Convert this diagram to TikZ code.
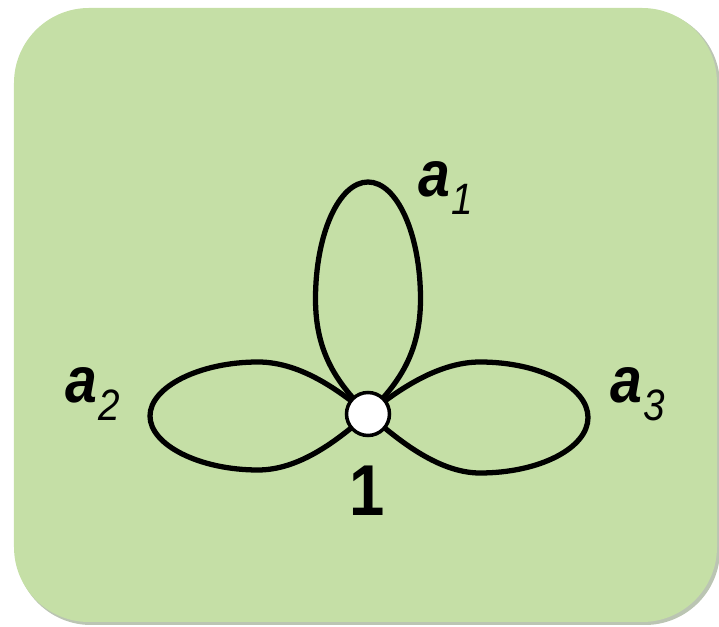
\documentclass[tikz,border=0pt]{standalone}
\usepackage{fontspec}
\setmainfont{Liberation Sans}[FakeStretch=0.88]

\definecolor{panelgreen}{HTML}{C5DFA6}
\definecolor{panelshade}{HTML}{8E9F80}

\tikzset{
    vertex/.style={circle, draw, fill=white, line width=2pt,
        minimum size=0.86cm, inner sep=0pt},
    petal/.style={line width=3pt},
    petallabel/.style={inner sep=0pt, anchor=base west},
}

\newcommand{\petalname}[1]{%
    {\fontsize{37}{40}\selectfont\bfseries\itshape a}%
    \kern1pt\raisebox{-10pt}{\fontsize{25}{28}\selectfont\itshape #1}}

\begin{document}
\begin{tikzpicture}
    \useasboundingbox (-7.36,-4.26) rectangle (7.02,8.28);

    % panel
    \fill [panelshade, opacity=0.6, rounded corners=1.5cm]
        (-7.04,-4.22) rectangle (7.04,8.08);
    \fill [panelgreen, rounded corners=1.5cm]
        (-7.08,-4.16) rectangle (6.98,8.12);

    \coordinate (c) at (0,0);

    % loops
    \draw [petal]
        (c)
        .. controls (-0.6,0.6) and (-1.05,1.2) .. (-1.05,2.3)
        .. controls (-1.05,3.6) and (-0.58,4.64) .. (0,4.64)
        .. controls (0.58,4.64) and (1.05,3.6) .. (1.05,2.3)
        .. controls (1.05,1.2) and (0.6,0.6) .. (c)
        ;

    \draw [petal]
        (c)
        .. controls (0.5,0.4) and (1.35,1.04) .. (2.24,1.04)
        .. controls (3.43,1.04) and (4.4,0.54) .. (4.4,-0.07)
        .. controls (4.4,-0.68) and (3.43,-1.18) .. (2.24,-1.18)
        .. controls (1.35,-1.18) and (0.5,-0.42) .. (c)
        ;

    \draw [petal]
        (c)
        .. controls (-0.5,0.4) and (-1.3,1.04) .. (-2.2,1.04)
        .. controls (-3.37,1.04) and (-4.36,0.54) .. (-4.36,-0.04)
        .. controls (-4.36,-0.62) and (-3.37,-1.12) .. (-2.2,-1.12)
        .. controls (-1.3,-1.12) and (-0.5,-0.42) .. (c)
        ;

    \node [vertex] (v1) at (c) {};

    % labels
    \node [petallabel] (la1) at (1.0,4.34) {\petalname{1}};
    \node [petallabel] (la2) at (-6.06,0.22) {\petalname{2}};
    \node [petallabel] (la3) at (4.84,0.22) {\petalname{3}};
    \node [inner sep=0pt, anchor=base] (lv1) at (-0.02,-2.04)
        {\fontsize{41}{44}\selectfont\bfseries 1};
\end{tikzpicture}
\end{document}
